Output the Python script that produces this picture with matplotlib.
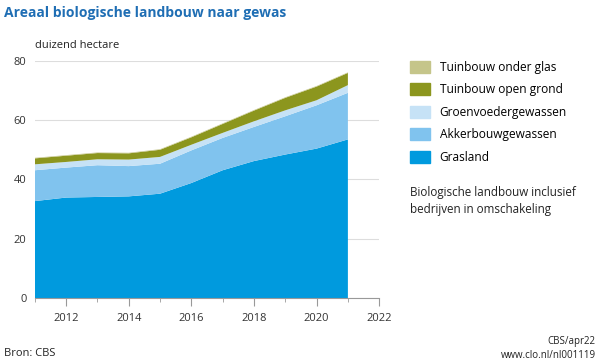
import numpy as np
import matplotlib.pyplot as plt
from matplotlib.patches import Patch

plt.rcParams['font.family'] = ['Open Sans', 'DejaVu Sans']

years = [2011, 2012, 2013, 2014, 2015, 2016, 2017, 2018, 2019, 2020, 2021]
grasland = [32.7, 33.9, 34.1, 34.3, 35.2, 38.8, 43.1, 46.2, 48.4, 50.4, 53.5]
akkerbouw = [10.4, 10.1, 10.7, 10.2, 10.1, 11.0, 10.9, 11.5, 12.9, 14.6, 15.7]
groenvoeder = [2.0, 1.9, 2.0, 2.2, 2.3, 1.9, 1.7, 1.9, 2.0, 1.7, 2.6]
tuin_open = [2.0, 2.1, 2.1, 2.1, 2.4, 2.5, 3.0, 3.6, 4.2, 4.6, 4.1]
tuin_glas = [0.2, 0.2, 0.2, 0.2, 0.2, 0.2, 0.2, 0.2, 0.2, 0.2, 0.2]

labels = ["Grasland", "Akkerbouwgewassen", "Groenvoedergewassen",
          "Tuinbouw open grond", "Tuinbouw onder glas"]
colors = ["#009ade", "#80c3ee", "#c6e2f6", "#8c961e", "#c5c58a"]

fig = plt.figure(figsize=(6, 3.64), dpi=100)
ax = fig.add_axes([0.058, 0.181, 0.574, 0.652])

ax.stackplot(years, grasland, akkerbouw, groenvoeder, tuin_open, tuin_glas,
             colors=colors, linewidth=0)

ax.set_xlim(2011, 2022)
ax.set_ylim(0, 80)
ax.set_yticks([0, 20, 40, 60, 80])
ax.set_xticks([2012, 2014, 2016, 2018, 2020, 2022])
ax.set_xticks([2011, 2013, 2015, 2017, 2019, 2021], minor=True)
ax.grid(axis='y', color='#dddddd', linewidth=0.8)
ax.set_axisbelow(True)
for s in ['top', 'right', 'left']:
    ax.spines[s].set_visible(False)
ax.spines['bottom'].set_color('#999999')
ax.spines['bottom'].set_linewidth(0.8)
ax.tick_params(axis='x', which='major', length=6, color='#999999', labelsize=8, labelcolor='#333333', pad=5)
ax.tick_params(axis='x', which='minor', length=3, color='#999999')
ax.tick_params(axis='y', length=0, labelsize=8, labelcolor='#333333', pad=6)

fig.text(0.007, 0.963, "Areaal biologische landbouw naar gewas", color='#1f6eb4',
         fontsize=10, fontweight='bold', va='center', ha='left')
fig.text(0.058, 0.876, "duizend hectare", fontsize=8, color='#222222', va='center')

handles = [Patch(color=c) for c in colors[::-1]]
fig.legend(handles, labels[::-1], loc='upper left', bbox_to_anchor=(0.683, 0.833),
           frameon=False, fontsize=8.6, handlelength=1.7, handleheight=1.15,
           labelspacing=0.8, handletextpad=0.8, borderaxespad=0, borderpad=0)

fig.text(0.683, 0.448, "Biologische landbouw inclusief\nbedrijven in omschakeling",
         fontsize=8.4, color='#222222', va='center', linespacing=1.4)

fig.text(0.007, 0.03, "Bron: CBS", fontsize=8, color='#222222', va='center')
fig.text(0.993, 0.063, "CBS/apr22", fontsize=7, color='#222222', va='center', ha='right')
fig.text(0.993, 0.022, "www.clo.nl/nl001119", fontsize=7, color='#222222', va='center', ha='right')

fig.savefig("out.png", dpi=100)
